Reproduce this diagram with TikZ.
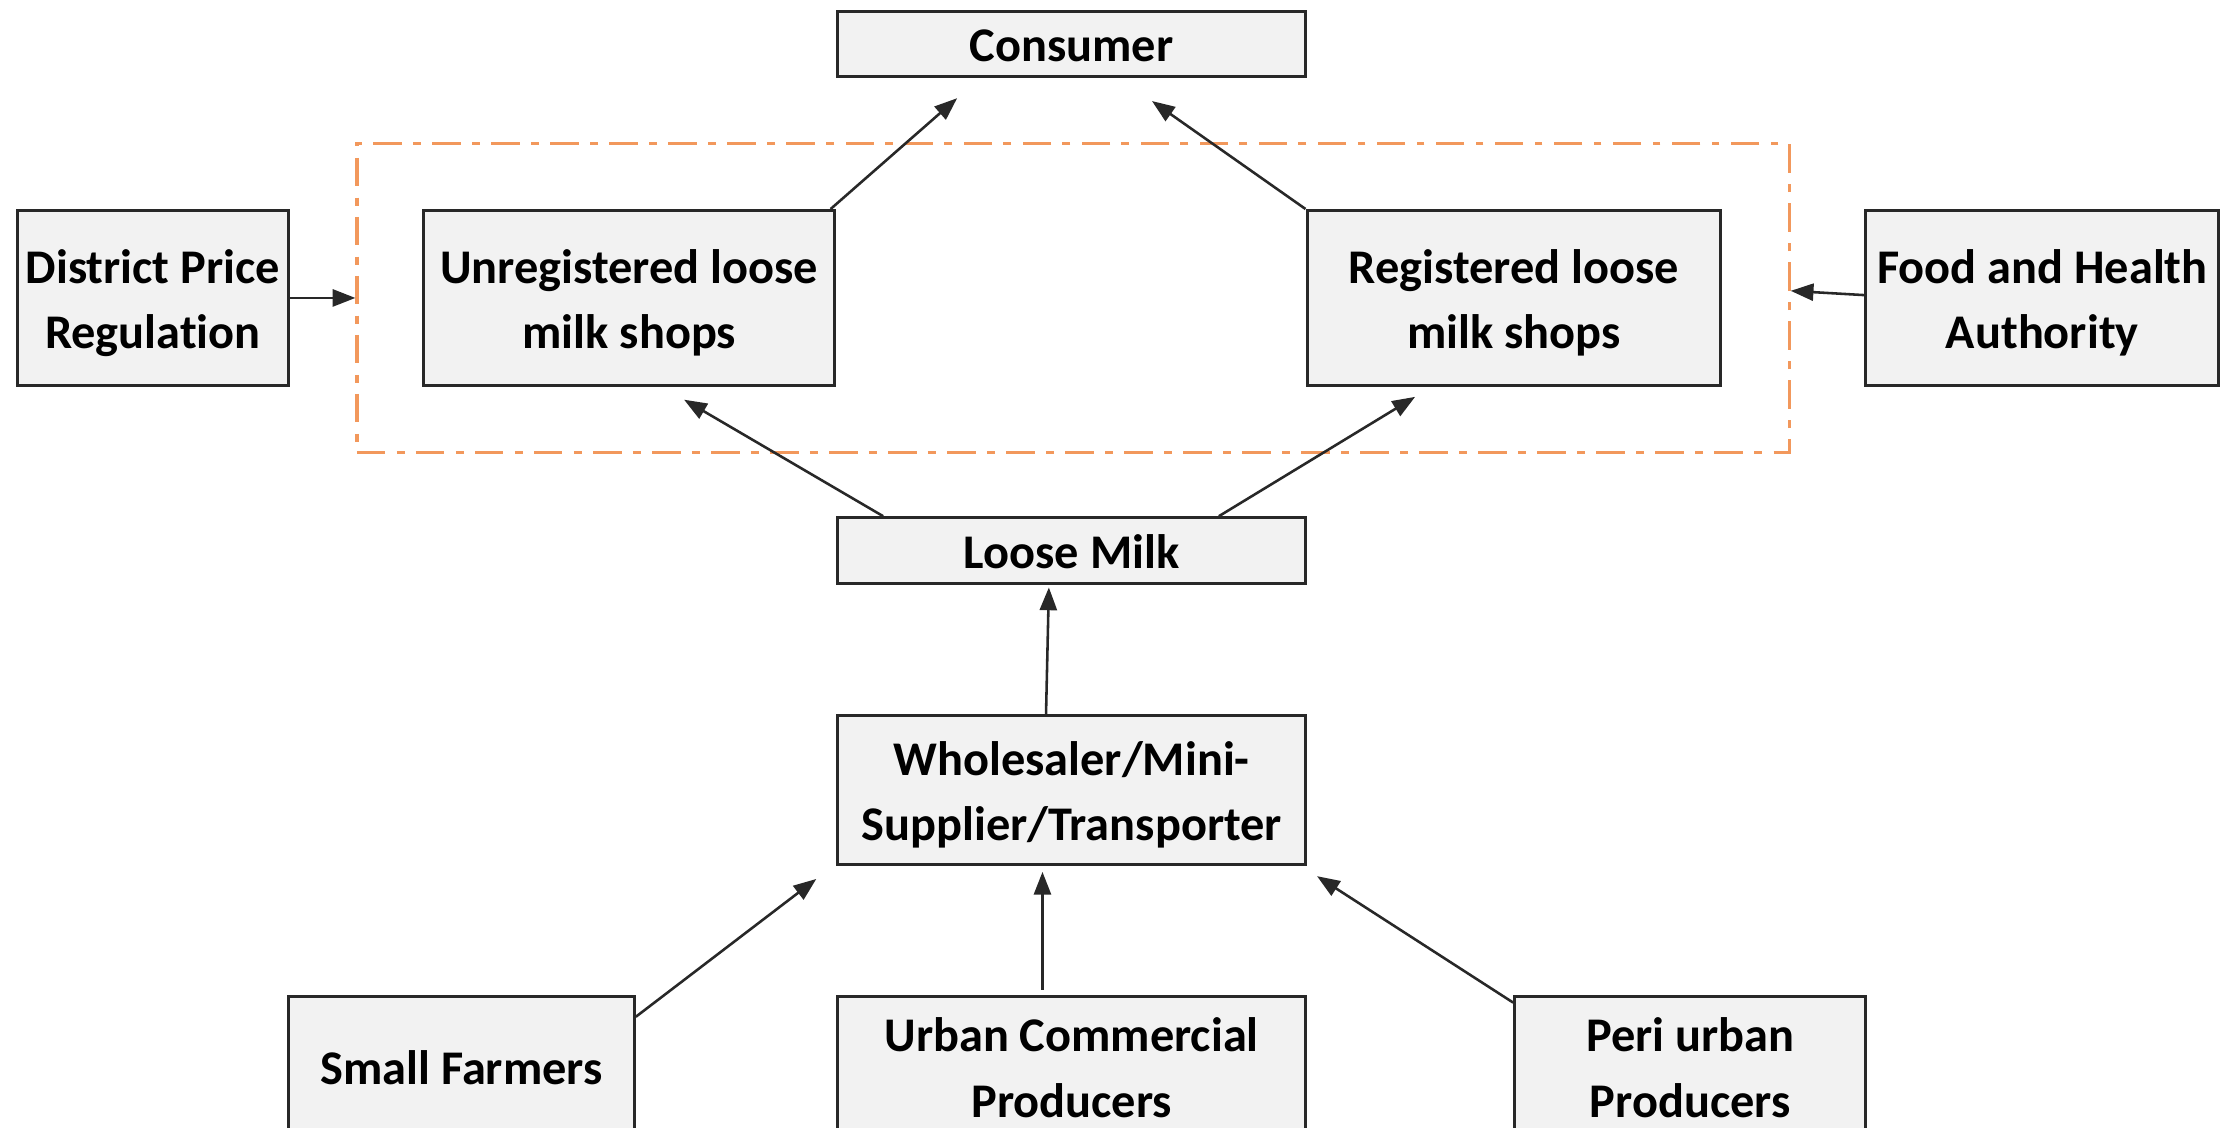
\documentclass[tikz,border=0pt]{standalone}
\usepackage{fontspec}
\setmainfont{Carlito}[Ligatures=NoCommon]
\usetikzlibrary{arrows.meta}
\definecolor{boxfill}{RGB}{242,242,242}
\definecolor{boxline}{RGB}{40,40,40}
\definecolor{grporange}{RGB}{242,152,92}
\newcommand\ts{\rule{0pt}{34pt}}
\newcommand\bs{\rule[-9pt]{0pt}{0pt}}
\tikzset{
  blk/.style={draw=boxline, fill=boxfill, line width=2.1pt, inner sep=0pt, align=center,
    font=\fontsize{34}{46}\selectfont\bfseries},
  arr/.style={draw=boxline, line width=1.8pt, -{Triangle[length=16pt,width=12pt]}},
  grp/.style={draw=grporange, line width=2.2pt, dash pattern=on 20pt off 8pt on 5.5pt off 8pt, inner sep=0pt}
}
\begin{document}
\begin{tikzpicture}[x=1pt,y=-1pt]
\clip (0,0) rectangle (1568,793);
\fill[white] (0,0) rectangle (1568,793);
\node[grp, minimum width=1007pt, minimum height=217pt] (group) at (754.5,209.5) {};
\node[blk, minimum width=329pt, minimum height=46pt] (consumer) at (753.5,31) {\ts Consumer\bs};
\node[blk, minimum width=191pt, minimum height=123pt] (dpr) at (107.5,209.5) {\ts District Price\\Regulation\bs};
\node[blk, minimum width=289pt, minimum height=123pt] (unreg) at (442.5,209.5) {\ts Unregistered loose\\milk shops\bs};
\node[blk, minimum width=291pt, minimum height=123pt] (reg) at (1064.5,209.5) {\ts Registered loose\\milk shops\bs};
\node[blk, minimum width=248pt, minimum height=123pt] (food) at (1436,209.5) {\ts Food and Health\\Authority\bs};
\node[blk, minimum width=329pt, minimum height=46pt] (loose) at (753.5,387) {\ts Loose Milk\bs};
\node[blk, minimum width=329pt, minimum height=105pt] (whole) at (753.5,555.5) {\ts Wholesaler/Mini-\\Supplier/Transporter\bs};
\node[blk, minimum width=243pt, minimum height=98pt] (small) at (324.5,750) {\ts Small Farmers\bs};
\node[blk, minimum width=329pt, minimum height=98pt] (urban) at (753.5,750) {\ts Urban Commercial\\Producers\bs};
\node[blk, minimum width=247pt, minimum height=98pt] (peri) at (1188.5,750) {\ts Peri urban\\Producers\bs};

\draw[arr] ([xshift=-4pt]unreg.north east) -- ([xshift=-80.5pt,yshift=-14pt]consumer.south);
\draw[arr] (reg.north west) -- ([xshift=56.5pt,yshift=-16pt]consumer.south);
\draw[arr] ([xshift=33pt]loose.north west) -- ([xshift=38.5pt,yshift=-9pt]unreg.south);
\draw[arr] ([xshift=-62pt]loose.north east) -- ([xshift=-69.5pt,yshift=-7pt]reg.south);
\draw[arr] (dpr.east) -- (group.west);
\draw[arr] ([yshift=2pt]food.west) -- ([yshift=5pt]group.east);
\draw[arr] ([xshift=-18pt]whole.north) -- ([xshift=-16pt,yshift=-2pt]loose.south);
\draw[arr] ([yshift=-15pt]small.north east) -- ([xshift=-14pt,yshift=-9pt]whole.south west);
\draw[arr] ([xshift=-20.5pt,yshift=4pt]urban.north) -- ([xshift=-20.5pt,yshift=-4pt]whole.south);
\draw[arr] ([yshift=-5pt]peri.north west) -- ([xshift=7pt,yshift=-7pt]whole.south east);
\end{tikzpicture}
\end{document}
